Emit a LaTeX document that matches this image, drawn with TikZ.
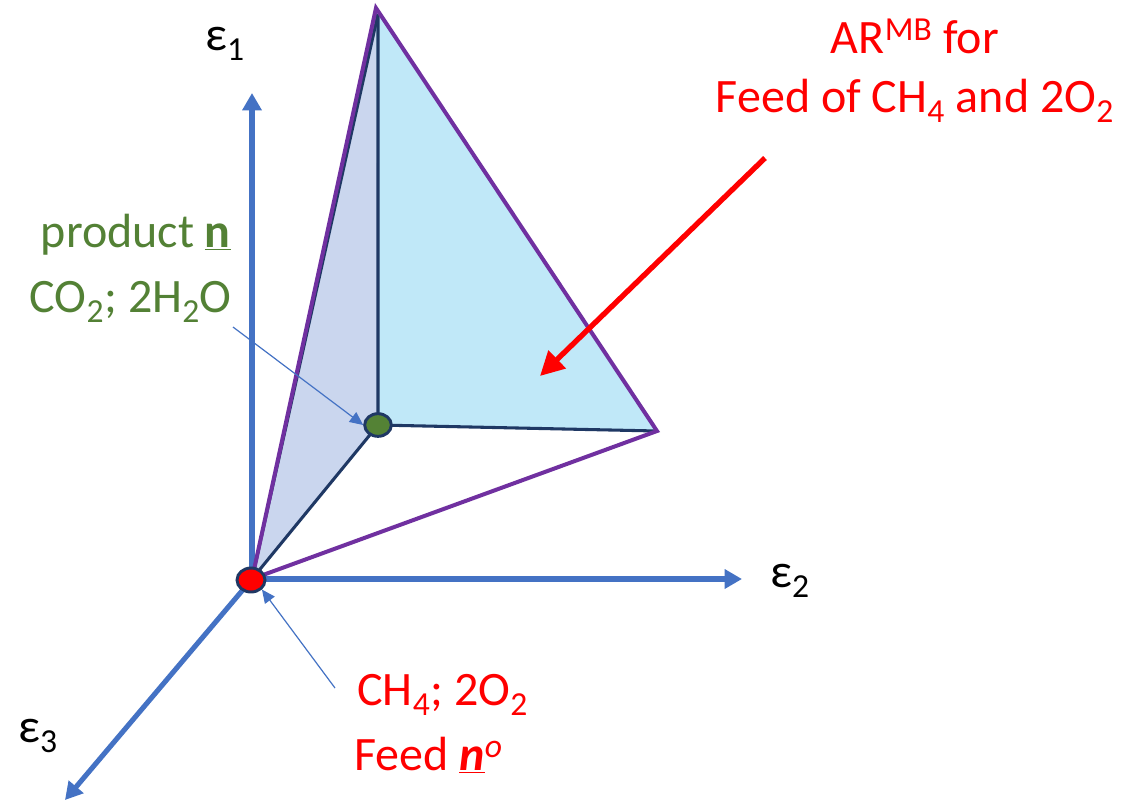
\documentclass[tikz,border=0pt]{standalone}
\usepackage{fontspec}
\setmainfont{Carlito}
\usetikzlibrary{arrows.meta,shapes.geometric}
\definecolor{axblue}{HTML}{4472C4}
\definecolor{purp}{HTML}{7030A0}
\definecolor{navy}{HTML}{1F3864}
\definecolor{lblue}{HTML}{C0E8F8}
\definecolor{lav}{HTML}{CAD6EE}
\definecolor{pgreen}{HTML}{548235}
\definecolor{dgreen}{HTML}{538135}
\tikzset{
  axis/.style={draw=axblue, line width=3.8pt, -{Triangle[length=13pt,width=14pt]}},
  edgeP/.style={draw=purp, line width=3pt},
  edgeN/.style={draw=navy, line width=2.3pt},
  thin/.style={draw=axblue, line width=0.9pt, -{Triangle[length=10pt,width=9pt]}},
  lbl/.style={inner sep=0pt, font=\fontsize{36}{42}\selectfont},
  dot/.style={ellipse, draw=navy, line width=2.2pt, inner sep=0pt},
}
\begin{document}
\begin{tikzpicture}[x=0.75pt,y=-0.75pt]
\path[use as bounding box, fill=white] (0,0) rectangle (1145,801);
% key points
\coordinate (O) at (252,579);
\coordinate (A) at (376,8);
\coordinate (A2) at (378,14);
\coordinate (P) at (378,425);
\coordinate (R) at (657,431);
% axes
\coordinate (e1tip) at (252,93);
\coordinate (e2tip) at (742,579);
\coordinate (e3tip) at (65,800);
\draw[axis] (O) -- (e1tip);
\draw[axis] (O) -- (e2tip);
\draw[axis] (O) -- (e3tip);
% faces
\fill[lav] (O) -- (A) -- (P) -- cycle;
\fill[lblue] (A) -- (P) -- (R) -- cycle;
\draw[edgeN] (O) -- (A2);
\draw[edgeN] (O) -- (P);
\draw[edgeN] (A2) -- (P) -- (R);
\draw[edgeP, line join=miter] (O) -- (A) -- (R) -- (O);
% thin arrows
\coordinate (pstart) at (233,327);
\coordinate (fstart) at (335,688);
% points
\node[dot, fill=pgreen, minimum width=20pt, minimum height=17pt] (Pdot) at (P) {};
\node[dot, fill=red, minimum width=21pt, minimum height=18pt] (Odot) at (251,580) {};
\draw[thin] (pstart) -- (Pdot.west);
\draw[thin] (fstart) -- (Odot.south east);
% red arrow
\coordinate (rstart) at (765,158);
\coordinate (rend) at (540,376);
\draw[red, line width=4pt, -{Triangle[length=18pt,width=18pt]}] (rstart) -- (rend);
% labels
\node[lbl, anchor=base west] (e1) at (205,50) {ε\textsubscript{1}};
\node[lbl, anchor=base west] (e2) at (770,587) {ε\textsubscript{2}};
\node[lbl, anchor=base west] (e3) at (18,742) {ε\textsubscript{3}};
\node[lbl, anchor=base, text=red] (ar1) at (915,53) {AR\textsuperscript{MB} for};
\node[lbl, anchor=base, text=red] (ar2) at (915,112) {Feed of CH\textsubscript{4} and 2O\textsubscript{2}};
\node[lbl, anchor=base east, text=dgreen] (pr1) at (231,247) {product \underline{\textbf{n}}};
\node[lbl, anchor=base east, text=dgreen] (pr2) at (232,312) {CO\textsubscript{2}; 2H\textsubscript{2}O};
\node[lbl, anchor=base west, text=red] (fd1) at (357,705) {CH\textsubscript{4}; 2O\textsubscript{2}};
\node[lbl, anchor=base west, text=red] (fd2) at (354,770) {Feed \underline{\textbf{\textit{n}}}\textsuperscript{\textit{o}}};
\end{tikzpicture}
\end{document}
